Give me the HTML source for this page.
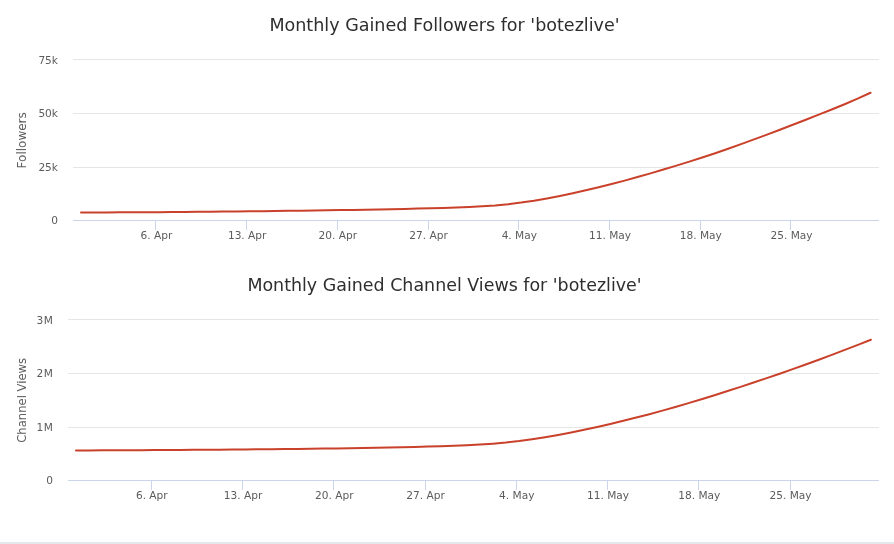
<!DOCTYPE html>
<html lang="en">
<head>
<meta charset="utf-8">
<title>Monthly Gained Followers / Channel Views for 'botezlive'</title>
<style>
html,body{margin:0;padding:0;background:#fff;}
body{width:894px;height:544px;overflow:hidden;position:relative;}
svg{position:absolute;left:0;top:0;display:block;}
text{font-family:'DejaVu Sans', 'Liberation Sans', sans-serif;}
.lab{font-size:10.6px;fill:#5c5c5c;}
.title{font-size:17.55px;fill:#2e2e2e;}
.ytitle{font-size:11.6px;fill:#5c5c5c;}
.bar{position:absolute;left:0;top:542px;width:894px;height:2px;background:#e4e8eb;}
</style>
</head>
<body>
<svg width="894" height="544" viewBox="0 0 894 544">
<path d="M73 59.5 L879 59.5" stroke="#e6e6e6" stroke-width="1" fill="none"/>
<path d="M73 113.5 L879 113.5" stroke="#e6e6e6" stroke-width="1" fill="none"/>
<path d="M73 167.5 L879 167.5" stroke="#e6e6e6" stroke-width="1" fill="none"/>
<path d="M73 220.5 L879 220.5" stroke="#ccd6eb" stroke-width="1" fill="none"/>
<path d="M155.5 220 L155.5 230" stroke="#ccd6eb" stroke-width="1" fill="none"/>
<text x="156.45" y="239" text-anchor="middle" class="lab">6. Apr</text>
<path d="M246.5 220 L246.5 230" stroke="#ccd6eb" stroke-width="1" fill="none"/>
<text x="247.17" y="239" text-anchor="middle" class="lab">13. Apr</text>
<path d="M337.5 220 L337.5 230" stroke="#ccd6eb" stroke-width="1" fill="none"/>
<text x="337.89" y="239" text-anchor="middle" class="lab">20. Apr</text>
<path d="M428.5 220 L428.5 230" stroke="#ccd6eb" stroke-width="1" fill="none"/>
<text x="428.61" y="239" text-anchor="middle" class="lab">27. Apr</text>
<path d="M518.5 220 L518.5 230" stroke="#ccd6eb" stroke-width="1" fill="none"/>
<text x="519.33" y="239" text-anchor="middle" class="lab">4. May</text>
<path d="M609.5 220 L609.5 230" stroke="#ccd6eb" stroke-width="1" fill="none"/>
<text x="610.05" y="239" text-anchor="middle" class="lab">11. May</text>
<path d="M700.5 220 L700.5 230" stroke="#ccd6eb" stroke-width="1" fill="none"/>
<text x="700.77" y="239" text-anchor="middle" class="lab">18. May</text>
<path d="M790.5 220 L790.5 230" stroke="#ccd6eb" stroke-width="1" fill="none"/>
<text x="791.49" y="239" text-anchor="middle" class="lab">25. May</text>
<text x="58" y="64" text-anchor="end" class="lab">75k</text>
<text x="58" y="117" text-anchor="end" class="lab">50k</text>
<text x="58" y="171" text-anchor="end" class="lab">25k</text>
<text x="58" y="224" text-anchor="end" class="lab">0</text>
<text x="444.5" y="30.5" text-anchor="middle" class="title" style="font-size:17.55px">Monthly Gained Followers for 'botezlive'</text>
<text transform="translate(25.7 140.3) rotate(-90)" text-anchor="middle" class="ytitle" style="font-size:12px">Followers</text>
<path d="M81.0 212.47 L93.9 212.45 L106.9 212.40 L119.8 212.35 L132.8 212.29 L145.7 212.21 L158.7 212.13 L171.6 212.03 L184.5 211.93 L197.5 211.81 L210.4 211.69 L223.4 211.56 L236.3 211.43 L249.3 211.28 L262.2 211.14 L275.1 210.98 L288.1 210.82 L301.0 210.66 L314.0 210.48 L326.9 210.30 L339.9 210.10 L352.8 209.89 L365.7 209.67 L378.7 209.42 L391.6 209.16 L404.6 208.88 L417.5 208.57 L430.5 208.24 L443.4 207.88 L456.3 207.48 L469.3 206.98 L482.2 206.31 L495.2 205.40 L508.1 204.18 L521.0 202.60 L534.0 200.67 L546.9 198.44 L559.9 195.94 L572.8 193.21 L585.8 190.30 L598.7 187.24 L611.6 184.02 L624.6 180.63 L637.5 177.05 L650.5 173.34 L663.4 169.52 L676.4 165.63 L689.3 161.64 L702.2 157.52 L715.2 153.22 L728.1 148.74 L741.1 144.12 L754.0 139.40 L767.0 134.60 L779.9 129.71 L792.8 124.76 L805.8 119.74 L818.7 114.66 L831.7 109.52 L844.6 104.24 L857.6 98.69 L870.5 92.78" stroke="#c9412a" stroke-width="2" stroke-linejoin="round" stroke-linecap="round" fill="none"/>
<path d="M68 319.5 L879 319.5" stroke="#e6e6e6" stroke-width="1" fill="none"/>
<path d="M68 373.5 L879 373.5" stroke="#e6e6e6" stroke-width="1" fill="none"/>
<path d="M68 427.5 L879 427.5" stroke="#e6e6e6" stroke-width="1" fill="none"/>
<path d="M68 480.5 L879 480.5" stroke="#ccd6eb" stroke-width="1" fill="none"/>
<path d="M151.5 480 L151.5 490" stroke="#ccd6eb" stroke-width="1" fill="none"/>
<text x="151.80" y="499" text-anchor="middle" class="lab">6. Apr</text>
<path d="M242.5 480 L242.5 490" stroke="#ccd6eb" stroke-width="1" fill="none"/>
<text x="243.05" y="499" text-anchor="middle" class="lab">13. Apr</text>
<path d="M333.5 480 L333.5 490" stroke="#ccd6eb" stroke-width="1" fill="none"/>
<text x="334.30" y="499" text-anchor="middle" class="lab">20. Apr</text>
<path d="M425.5 480 L425.5 490" stroke="#ccd6eb" stroke-width="1" fill="none"/>
<text x="425.55" y="499" text-anchor="middle" class="lab">27. Apr</text>
<path d="M516.5 480 L516.5 490" stroke="#ccd6eb" stroke-width="1" fill="none"/>
<text x="516.80" y="499" text-anchor="middle" class="lab">4. May</text>
<path d="M607.5 480 L607.5 490" stroke="#ccd6eb" stroke-width="1" fill="none"/>
<text x="608.05" y="499" text-anchor="middle" class="lab">11. May</text>
<path d="M698.5 480 L698.5 490" stroke="#ccd6eb" stroke-width="1" fill="none"/>
<text x="699.30" y="499" text-anchor="middle" class="lab">18. May</text>
<path d="M790.5 480 L790.5 490" stroke="#ccd6eb" stroke-width="1" fill="none"/>
<text x="790.55" y="499" text-anchor="middle" class="lab">25. May</text>
<text x="53.6" y="324" text-anchor="end" class="lab" style="letter-spacing:0.6px">3M</text>
<text x="53.6" y="377" text-anchor="end" class="lab" style="letter-spacing:0.6px">2M</text>
<text x="53.6" y="431" text-anchor="end" class="lab" style="letter-spacing:0.6px">1M</text>
<text x="53" y="484" text-anchor="end" class="lab">0</text>
<text x="444.5" y="290.5" text-anchor="middle" class="title" style="font-size:17.45px">Monthly Gained Channel Views for 'botezlive'</text>
<text transform="translate(25.7 400.3) rotate(-90)" text-anchor="middle" class="ytitle" style="font-size:11.6px">Channel Views</text>
<path d="M76.0 450.42 L89.0 450.39 L102.1 450.35 L115.1 450.30 L128.1 450.24 L141.2 450.17 L154.2 450.10 L167.2 450.02 L180.2 449.93 L193.3 449.84 L206.3 449.74 L219.3 449.63 L232.4 449.52 L245.4 449.40 L258.4 449.28 L271.5 449.16 L284.5 449.03 L297.5 448.89 L310.6 448.75 L323.6 448.59 L336.6 448.42 L349.7 448.23 L362.7 448.02 L375.7 447.78 L388.7 447.52 L401.8 447.24 L414.8 446.92 L427.8 446.57 L440.9 446.18 L453.9 445.75 L466.9 445.23 L480.0 444.56 L493.0 443.69 L506.0 442.55 L519.1 441.10 L532.1 439.34 L545.1 437.29 L558.2 435.00 L571.2 432.49 L584.2 429.80 L597.2 426.96 L610.3 423.97 L623.3 420.84 L636.3 417.57 L649.4 414.16 L662.4 410.61 L675.4 406.94 L688.5 403.13 L701.5 399.21 L714.5 395.18 L727.6 391.06 L740.6 386.84 L753.6 382.54 L766.7 378.15 L779.7 373.68 L792.7 369.13 L805.7 364.47 L818.8 359.73 L831.8 354.88 L844.8 349.93 L857.9 344.87 L870.9 339.71" stroke="#c9412a" stroke-width="2" stroke-linejoin="round" stroke-linecap="round" fill="none"/>
</svg>
<div class="bar"></div>
</body>
</html>
